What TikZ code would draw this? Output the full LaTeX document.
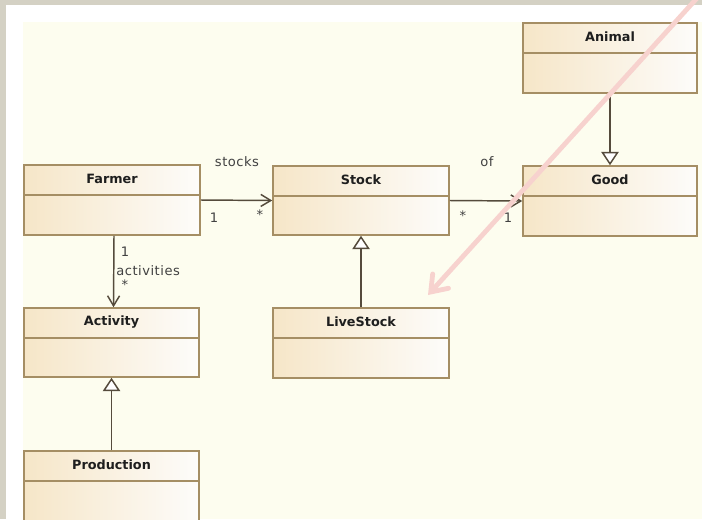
\documentclass[tikz,border=0pt]{standalone}
\usepackage{fontspec}
\setmainfont{DejaVu Sans}
\newfontfamily\labelfont{DejaVu Sans}[LetterSpace=4]
\usetikzlibrary{arrows.meta,calc,fit,shadows}

\definecolor{pagegrey}{RGB}{212,209,196}
\definecolor{canvas}{RGB}{253,253,239}
\definecolor{boxtan}{RGB}{246,230,200}
\definecolor{boxwhite}{RGB}{253,252,250}
\definecolor{boxedge}{RGB}{165,142,100}
\definecolor{linkcol}{RGB}{85,75,60}
\definecolor{textcol}{RGB}{30,30,30}
\definecolor{labelcol}{RGB}{65,65,65}
\definecolor{notepink}{RGB}{247,210,206}

\tikzset{
  classbox/.style={rectangle, draw=boxedge, line width=1.2pt, inner sep=0pt,
    left color=boxtan, right color=boxwhite,
    drop shadow={shadow xshift=1pt, shadow yshift=-1pt, opacity=0.18}},
  classname/.style={font=\fontsize{9.6}{11}\selectfont\bfseries, text=textcol, inner sep=0pt},
  divider/.style={draw=boxedge, line width=1.2pt},
  assoc/.style={draw=linkcol, line width=1.1pt, -{Straight Barb[length=7.5pt,width=9pt]}},
  inherit/.style={draw=linkcol, line width=1.1pt, -{Triangle[length=10pt,width=13pt,fill=white]}},
  rolelabel/.style={font=\labelfont\fontsize{9.8}{11}\selectfont, text=labelcol, inner sep=0pt},
  noteline/.style={draw=notepink, line width=3.6pt, line cap=round,
    -{Straight Barb[length=11pt,width=16pt,line cap=round]}},
}

% class box: name, top-left corner, bottom-right corner, class title
\newcommand\umlclass[6]{%
  \node[classbox, fit={(#2,#3) (#4,#5)}] (#1) {};
  \draw[divider] ($(#1.north west)+(0,30.5)$) -- ($(#1.north east)+(0,30.5)$);
  \node[classname] (#1-title) at ($(#1.north)+(0,15)$) {#6};
}

\begin{document}
\begin{tikzpicture}[x=0.75pt, y=-0.75pt]
  \useasboundingbox (0,0) rectangle (702,519);
  \clip (0,0) rectangle (702,519);

  % page, sheet and diagram canvas
  \fill[pagegrey] (0,0) rectangle (702,519);
  \fill[white] (6,5) rectangle (702,519);
  \fill[canvas] (23,22) rectangle (702,519);

  % classes
  \umlclass{farmer}{24}{165}{200}{235}{Farmer}
  \umlclass{stock}{273}{166}{449}{235}{Stock}
  \umlclass{good}{523}{166}{697}{236}{Good}
  \umlclass{animal}{523}{23}{697}{93}{Animal}
  \umlclass{activity}{24}{308}{199}{377}{Activity}
  \umlclass{livestock}{273}{308}{449}{378}{LiveStock}
  \umlclass{production}{24}{451}{199}{530}{Production}

  % associations
  \draw[assoc] (farmer.east) -- (stock.west);
  \draw[assoc] (stock.east) -- (good.west);
  \draw[assoc] ([xshift=1.5pt]farmer.south) -- ([xshift=1.5pt]activity.north);

  % generalizations
  \draw[inherit] (animal.south) -- (good.north);
  \draw[inherit] (livestock.north) -- (stock.south);
  \draw[inherit] (production.north) -- (activity.south);

  % role names and multiplicities
  \node[rolelabel] (lbl-stocks) at (237,162) {stocks};
  \node[rolelabel] (lbl-stocks-src) at (214,218) {1};
  \node[rolelabel] (lbl-stocks-dst) at (260,215) {*};
  \node[rolelabel] (lbl-of) at (487,162) {of};
  \node[rolelabel] (lbl-of-src) at (463,216) {*};
  \node[rolelabel] (lbl-of-dst) at (508,218) {1};
  \node[rolelabel] (lbl-act-src) at (125,252) {1};
  \node[rolelabel, anchor=west] (lbl-act) at (116,271) {activities};
  \node[rolelabel] (lbl-act-dst) at (125,285) {*};

  % pointer annotation
  \coordinate (notestart) at (698,-3);
  \coordinate (notetip) at (428,295);
  \draw[noteline] (notestart) -- (notetip);
\end{tikzpicture}
\end{document}
